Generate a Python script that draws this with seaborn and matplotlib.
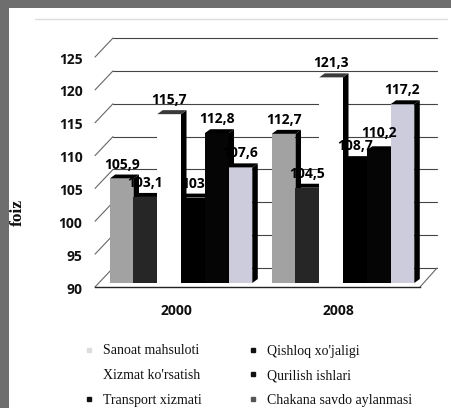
import pandas as pd
import seaborn as sns
import matplotlib
matplotlib.use("Agg")
import matplotlib.pyplot as plt
from matplotlib.patches import Polygon, Rectangle
from matplotlib.lines import Line2D
from matplotlib.transforms import ScaledTranslation

years = ["2000", "2008"]
series = ["Sanoat mahsuloti", "Qishloq xo'jaligi", "Xizmat ko'rsatish",
          "Transport xizmati", "Qurilish ishlari", "Chakana savdo aylanmasi"]
val_2000 = [105.9, 103.1, 115.7, 103, 112.8, 107.6]
val_2008 = [112.7, 104.5, 121.3, 108.7, 110.2, 117.2]
labels_2000 = ["105,9", "103,1", "115,7", "103", "112,8", "107,6"]
labels_2008 = ["112,7", "104,5", "121,3", "108,7", "110,2", "117,2"]
yticks = [90, 95, 100, 105, 110, 115, 120, 125]
colors = ["#a2a2a2", "#262626", "#ffffff", "#000000", "#050505", "#ccccdc"]

W, H = 451, 408
PX_X = 162.0   # pixels per category
PX_Y = 6.57    # pixels per y unit

df = pd.DataFrame({
    "year": [y for y in years for _ in series],
    "series": series * 2,
    "value": val_2000 + val_2008,
})

sns.set_theme(style="white")
plt.rcParams["font.family"] = ["Open Sans", "DejaVu Sans"]

fig = plt.figure(figsize=(W / 100, H / 100), dpi=100, facecolor="#6e6e6e")
fig.add_artist(Rectangle((9 / W, 0), 1, 1 - 8 / H, transform=fig.transFigure,
                         facecolor="white", edgecolor="none", zorder=-2))
fig.add_artist(Line2D([35 / W, 447 / W], [1 - 19 / H] * 2, color="#dddddd", lw=1, zorder=-1))

# axes: left 95 px, right 437 px, top 30 px, bottom 283 px
ax = fig.add_axes([95 / W, 1 - 283 / H, 342 / W, 253 / H])
ax.patch.set_alpha(0)

sns.barplot(data=df, x="year", y="value", hue="series", hue_order=series,
            palette=colors, saturation=1, width=0.88, gap=0, legend=False,
            ax=ax)

ax.set_xlim((95 - 181) / PX_X, (437 - 181) / PX_X)
ax.set_ylim(90, 90 + 253 / PX_Y)

# back wall and diagonal ticks
back = 15 / PX_Y
front = -4 / PX_Y
x0 = (95 - 181) / PX_X
x1 = (113 - 181) / PX_X
for v in yticks:
    ax.plot([x1, ax.get_xlim()[1]], [v + back] * 2, color="#444444", lw=0.8,
            zorder=1, clip_on=False)
    ax.plot([x0, x1], [v + front, v + back], color="#666666", lw=0.8,
            zorder=1, clip_on=False)
# floor corner at the right
ax.plot([(420 - 181) / PX_X, (437 - 181) / PX_X], [90 + front, 90 + back],
        color="#666666", lw=0.8, zorder=1, clip_on=False)

# 3d look: top cap and right side on every bar
dx = 5.5 / PX_X
dy = 4 / PX_Y
for i, cont in enumerate(ax.containers):
    for j, bar in enumerate(cont):
        bar.set_zorder(3 + i)
        bar.set_edgecolor("none")
        left = bar.get_x()
        right = left + bar.get_width()
        top = bar.get_height()
        cap_col = "#3a3a3a" if i == 2 else "black"
        ax.add_patch(Polygon([(right, 90), (right + dx, 90 + dy),
                              (right + dx, top + dy), (right, top)],
                             facecolor="black", edgecolor="none", zorder=3 + i))
        ax.add_patch(Polygon([(left, top), (left + dx, top + dy),
                              (right + dx, top + dy), (right, top)],
                             facecolor=cap_col, edgecolor="none", zorder=3 + i))
        txt = (labels_2000 if j == 0 else labels_2008)[i]
        raise_pt = 7.5 if txt == "110,2" else 5  # keeps it clear of 108,7
        ax.annotate(txt, (left + bar.get_width() / 2, top), xytext=(0, raise_pt),
                    textcoords="offset points", ha="center", va="bottom",
                    fontsize=10, fontweight="bold", color="black", zorder=20)

for s in ["top", "left", "right"]:
    ax.spines[s].set_visible(False)
ax.spines["bottom"].set_position(("outward", 3))
ax.spines["bottom"].set_color("#222222")
ax.spines["bottom"].set_linewidth(1)
ax.spines["bottom"].set_bounds(ax.get_xlim()[0], (420 - 181) / PX_X)

ax.set_yticks(yticks)
ax.set_yticklabels([str(v) for v in yticks], fontsize=10, fontweight="bold", color="#111111")
ax.set_xticks([0, 1])
ax.set_xticklabels(years, fontsize=10, fontweight="bold", color="#111111")
ax.tick_params(axis="y", length=0, pad=9)
ax.tick_params(axis="x", length=0, pad=12)
down = ScaledTranslation(0, -5 / 100, fig.dpi_scale_trans)
for lab in ax.get_yticklabels():
    lab.set_transform(lab.get_transform() + down)
shift = ScaledTranslation(-5 / 100, 0, fig.dpi_scale_trans)
for lab in ax.get_xticklabels():
    lab.set_transform(lab.get_transform() + shift)

ax.set_xlabel("")
ax.set_ylabel("")
fig.text(18 / W, 1 - 212 / H, "foiz", rotation=90, ha="center", va="center",
         fontsize=12.5, fontweight="bold", family="Liberation Serif", color="#111111")

# legend, column order as in the picture
order = [0, 2, 3, 1, 4, 5]
key_colors = ["#dddddd", "#ffffff", "#111111", "#111111", "#111111", "#555555"]
handles = [Line2D([], [], ls="", marker="s", ms=3.5, color=key_colors[k]) for k in range(6)]
leg = fig.legend(handles, [series[k] for k in order], ncols=2, frameon=False,
                 loc="upper left", bbox_to_anchor=(70 / W, 1 - 332 / H),
                 prop={"family": "Liberation Serif", "size": 10},
                 labelspacing=0.85, columnspacing=3.2, handletextpad=0.5,
                 handlelength=1.0, labelcolor="#111111")

fig.savefig("out.png", dpi=100)
